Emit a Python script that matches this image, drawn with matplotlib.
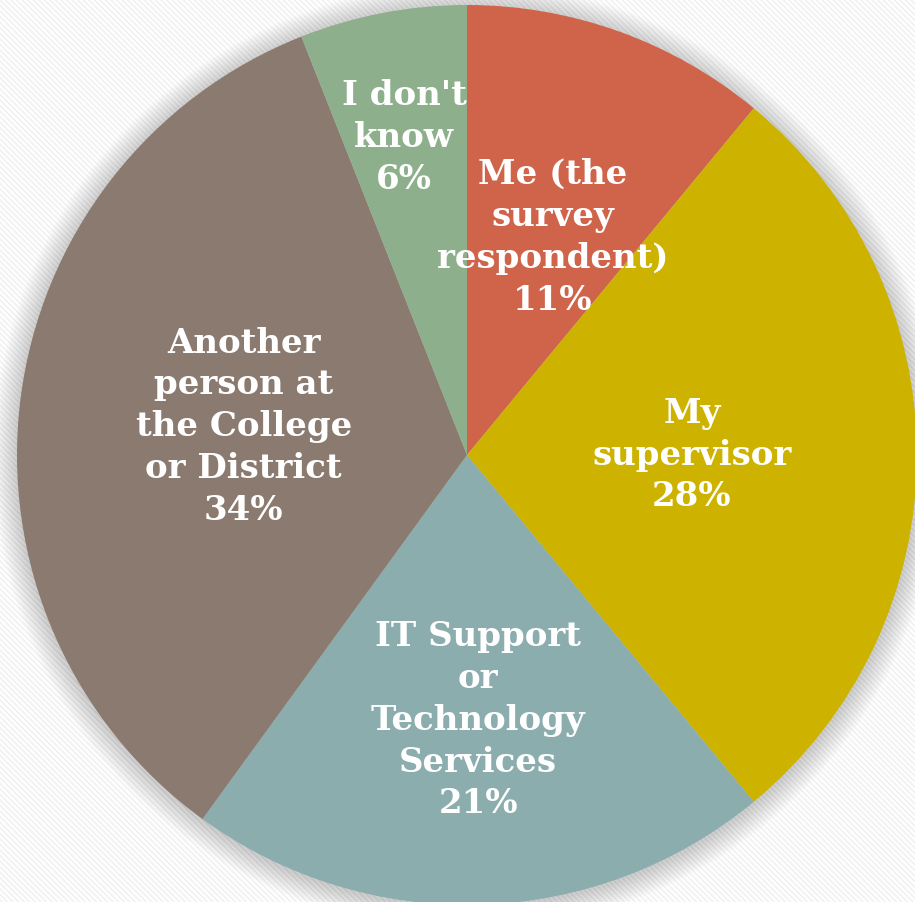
import matplotlib.pyplot as plt
import matplotlib.patches as mpatches
import numpy as np

# who handles the request
labels = ["Me (the\nsurvey\nrespondent)", "My\nsupervisor", "IT Support\nor\nTechnology\nServices",
          "Another\nperson at\nthe College\nor District", "I don't\nknow"]
values = [11, 28, 21, 34, 6]
colors = ["#D0644A", "#CDB300", "#8CADAE", "#8A7A70", "#8DAF8C"]
# label placement: fraction of radius, and angle nudge from wedge middle (deg)
label_dist = [0.52, 0.50, 0.59, 0.50, 0.72]
label_turn = [-1.7, 0.0, 0.6, 0.0, 0.4]

W, H = 915, 902
fig = plt.figure(figsize=(W / 100, H / 100), dpi=100)
ax = fig.add_axes([0, 0, 1, 1])

# striped backdrop
plt.rcParams['hatch.linewidth'] = 1.2
bg = mpatches.Rectangle((0, 0), W, H, facecolor='white', edgecolor='#f1f1f1',
                        hatch='\\\\\\\\\\\\', lw=0, zorder=0)
ax.add_patch(bg)

cx, cy, R = 467, 447, 450

# soft shadow around the pie
for i in range(24):
    ax.add_patch(mpatches.Circle((cx, cy - 2), R + 24 - i, facecolor='#000000',
                                 alpha=0.0065, lw=0, zorder=1))

wedges, _ = ax.pie(values, colors=colors, startangle=90, counterclock=False,
                   center=(cx, cy), radius=R, frame=True,
                   wedgeprops=dict(linewidth=0, zorder=2))
ax.set_xlim(0, W)
ax.set_ylim(0, H)
ax.axis('off')

for w, lab, v, d, t in zip(wedges, labels, values, label_dist, label_turn):
    ang = np.deg2rad((w.theta1 + w.theta2) / 2 + t)
    x = cx + d * R * np.cos(ang)
    y = cy + d * R * np.sin(ang)
    ax.text(x, y, f"{lab}\n{v}%", ha='center', va='center', color='white',
            fontsize=24.5, fontweight='bold', family='DejaVu Serif',
            linespacing=1.34, zorder=3)

fig.savefig('out.png', dpi=100)
